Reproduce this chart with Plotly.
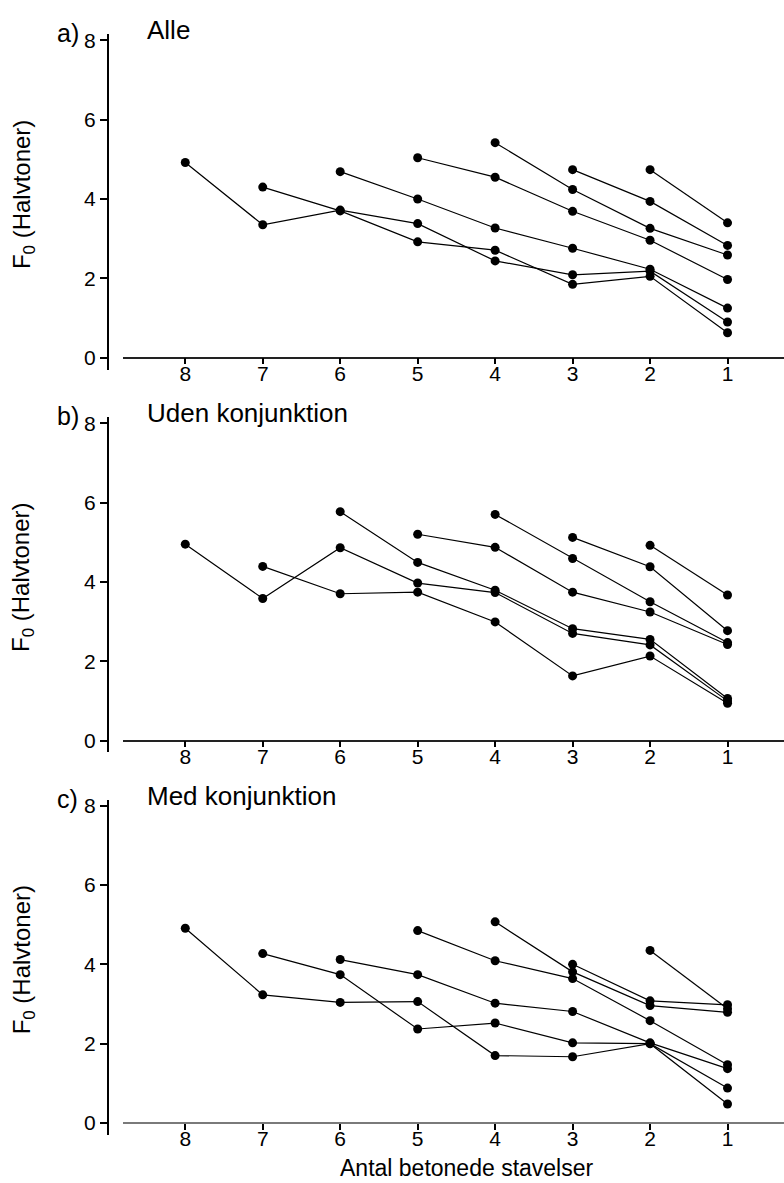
import plotly.graph_objects as go

# Stressed-syllable positions on the x axis (counted down to the last one)
positions = [8, 7, 6, 5, 4, 3, 2, 1]

# F0 (semitones) per utterance length; key = number of stressed syllables,
# values run from the first stressed syllable down to the last one.
alle = {
    8: [4.92, 3.35, 3.72, 3.38, 2.44, 2.09, 2.18, 0.90],
    7: [4.30, 3.70, 2.92, 2.71, 1.85, 2.05, 0.63],
    6: [4.69, 4.00, 3.27, 2.76, 2.23, 1.25],
    5: [5.04, 4.55, 3.69, 2.96, 1.97],
    4: [5.42, 4.24, 3.26, 2.59],
    3: [4.74, 3.94, 2.83],
    2: [4.74, 3.40],
}
uden_konjunktion = {
    8: [4.95, 3.58, 4.86, 3.97, 3.73, 2.70, 2.41, 1.00],
    7: [4.39, 3.70, 3.74, 2.99, 1.63, 2.13, 0.94],
    6: [5.77, 4.49, 3.79, 2.82, 2.55, 1.06],
    5: [5.20, 4.87, 3.74, 3.24, 2.42],
    4: [5.70, 4.59, 3.50, 2.47],
    3: [5.12, 4.38, 2.77],
    2: [4.92, 3.67],
}
med_konjunktion = {
    8: [4.91, 3.23, 3.04, 3.06, 1.70, 1.67, 2.00, 0.48],
    7: [4.27, 3.74, 2.37, 2.52, 2.02, 2.00, 0.88],
    6: [4.12, 3.74, 3.02, 2.81, 2.02, 1.37],
    5: [4.85, 4.09, 3.64, 2.58, 1.47],
    4: [5.07, 3.81, 2.96, 2.79],
    3: [4.00, 3.08, 2.98],
    2: [4.35, 2.88],
}

panel_letters = ["a)", "b)", "c)"]
panel_titles = ["Alle", "Uden konjunktion", "Med konjunktion"]
panel_data = [alle, uden_konjunktion, med_konjunktion]
y_ticks = [0, 2, 4, 6, 8]
x_title = "Antal betonede stavelser"
y_title = "F<sub>0</sub> (Halvtoner)"

W, H = 784, 1183
FONT = "Liberation Sans, Arial, sans-serif"

# page layout in pixels
zero_px = [353.5, 738.3, 1122.7]   # pixel row of y = 0 in each panel
unit_px = 39.875                   # pixels per semitone
y_lo, y_hi = -0.3, 8.15
yaxis_x_px = 107.7
xaxis_left_px = 123.3
x_lo, x_hi = 8.80, 0.271


def py(p):
    return 1 - p / H


fig = go.Figure()

for i, data in enumerate(panel_data):
    n = i + 1
    xa = "x" if n == 1 else f"x{n}"
    ya = "y" if n == 1 else f"y{n}"
    for start in sorted(data.keys(), reverse=True):
        vals = data[start]
        xs = list(range(start, start - len(vals), -1))
        fig.add_trace(go.Scatter(
            x=xs, y=vals, xaxis=xa, yaxis=ya, mode="lines+markers",
            line=dict(color="black", width=1.2),
            marker=dict(color="black", size=9),
            showlegend=False, hoverinfo="skip",
        ))

    z = zero_px[i]
    top = z - y_hi * unit_px
    bot = z - y_lo * unit_px
    ydom = [py(bot), py(top)]
    xkey = "xaxis" if n == 1 else f"xaxis{n}"
    ykey = "yaxis" if n == 1 else f"yaxis{n}"
    fig.update_layout({
        xkey: dict(
            domain=[xaxis_left_px / W, 1], range=[x_lo, x_hi],
            anchor="free", position=py(z),
            tickvals=positions, ticktext=[str(p) for p in positions],
            ticks="outside", ticklen=6, tickwidth=1.5, tickcolor="black",
            showline=True, linewidth=1.5,
            linecolor="#7a7a7a" if n == 3 else "#222222",
            showgrid=False, zeroline=False, ticklabelstandoff=-9,
            tickfont=dict(family=FONT, size=21, color="black"),
        ),
        ykey: dict(
            domain=ydom, range=[y_lo, y_hi],
            anchor="free", position=yaxis_x_px / W,
            tickvals=y_ticks, ticks="outside", ticklen=7, tickwidth=1.5,
            tickcolor="black", showline=True, linewidth=1.5, linecolor="black",
            showgrid=False, zeroline=False, ticklabelstandoff=0,
            tickfont=dict(family=FONT, size=21, color="black"),
        ),
    })

    # panel letter and title
    fig.add_annotation(x=55 / W, y=py(z - 8 * unit_px - 7), xref="paper", yref="paper",
                       text=panel_letters[i], showarrow=False, xanchor="left", yanchor="middle",
                       font=dict(family=FONT, size=25, color="black"))
    fig.add_annotation(x=145 / W, y=py(z - 8 * unit_px - 10), xref="paper", yref="paper",
                       text=panel_titles[i], showarrow=False, xanchor="left", yanchor="middle",
                       font=dict(family=FONT, size=26, color="black"))
    # y axis title
    fig.add_annotation(x=23 / W, y=py(z - 4.1 * unit_px), xref="paper", yref="paper",
                       text=y_title, showarrow=False, textangle=-90,
                       xanchor="center", yanchor="middle",
                       font=dict(family=FONT, size=24, color="black"))

fig.add_annotation(x=467 / W, y=py(1168), xref="paper", yref="paper",
                   text=x_title, showarrow=False, xanchor="center", yanchor="middle",
                   font=dict(family=FONT, size=23, color="black"))

fig.update_layout(
    width=W, height=H,
    margin=dict(l=0, r=0, t=0, b=0),
    paper_bgcolor="white", plot_bgcolor="white",
    font=dict(family=FONT, color="black"),
)

fig.write_html("out.html")
